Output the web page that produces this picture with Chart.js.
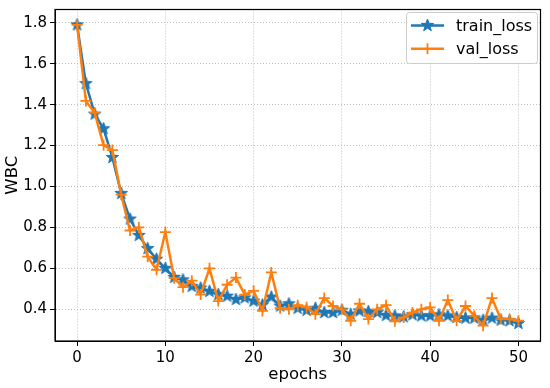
<!DOCTYPE html>
<html>
<head>
<meta charset="utf-8">
<script src="https://cdn.jsdelivr.net/npm/chart.js@4"></script>
<style>
  html, body { margin: 0; padding: 0; background: #fff; }
  canvas { display: block; }
</style>
</head>
<body>
<canvas id="lossChart" width="550" height="388"></canvas>
<script>
// data
const epochs = Array.from({ length: 51 }, (_, i) => i);
const trainLoss = [
  1.79, 1.503, 1.354, 1.282, 1.142, 0.966, 0.841, 0.761, 0.697, 0.645,
  0.600, 0.556, 0.544, 0.512, 0.504, 0.488, 0.472, 0.464, 0.448, 0.456,
  0.440, 0.421, 0.460, 0.416, 0.427, 0.405, 0.395, 0.405, 0.384, 0.384,
  0.395, 0.376, 0.392, 0.389, 0.384, 0.370, 0.368, 0.363, 0.373, 0.368,
  0.368, 0.373, 0.368, 0.360, 0.357, 0.357, 0.347, 0.357, 0.347, 0.344,
  0.331
];
const valLoss = [
  1.79, 1.418, 1.360, 1.202, 1.178, 0.960, 0.785, 0.800, 0.657, 0.593,
  0.777, 0.552, 0.508, 0.540, 0.472, 0.600, 0.440, 0.520, 0.555, 0.472,
  0.490, 0.392, 0.580, 0.405, 0.400, 0.420, 0.410, 0.376, 0.455, 0.416,
  0.400, 0.344, 0.427, 0.352, 0.400, 0.420, 0.341, 0.360, 0.384, 0.400,
  0.409, 0.344, 0.445, 0.344, 0.416, 0.368, 0.320, 0.455, 0.352, 0.352,
  0.344
];
const xTicks = [0, 10, 20, 30, 40, 50];
const yTicks = [0.4, 0.6, 0.8, 1.0, 1.2, 1.4, 1.6, 1.8];

const BLUE = '#1f77b4';
const ORANGE = '#ff7f0e';
const FONT = "'DejaVu Sans', sans-serif";

// filled 5-point star like matplotlib's '*'
function makeStar(color, rOut, rIn) {
  const c = document.createElement('canvas');
  const s = Math.ceil(rOut * 2 + 2);
  c.width = s; c.height = s;
  const g = c.getContext('2d');
  g.translate(s / 2, s / 2);
  g.beginPath();
  for (let i = 0; i < 10; i++) {
    const r = i % 2 === 0 ? rOut : rIn;
    const a = -Math.PI / 2 + i * Math.PI / 5;
    g.lineTo(r * Math.cos(a), r * Math.sin(a));
  }
  g.closePath();
  g.fillStyle = color;
  g.fill();
  g.lineWidth = 1;
  g.strokeStyle = color;
  g.stroke();
  return c;
}
const starImg = makeStar(BLUE, 6.5, 2.7);

const toPoints = ys => ys.map((y, i) => ({ x: epochs[i], y }));

// black box around the plot area
const frame = {
  id: 'frame',
  afterDatasetsDraw(chart) {
    const { ctx, chartArea: a } = chart;
    ctx.save();
    ctx.strokeStyle = '#000';
    ctx.lineWidth = 1.2;
    ctx.strokeRect(a.left, a.top, a.right - a.left, a.bottom - a.top);
    ctx.restore();
  }
};

// legend inside the axes, upper right
const innerLegend = {
  id: 'innerLegend',
  afterDraw(chart) {
    const { ctx } = chart;
    const x0 = 406, y0 = 12, w = 131, h = 51;
    ctx.save();
    ctx.beginPath();
    ctx.roundRect(x0 + 0.5, y0 + 0.5, w, h, 3);
    ctx.fillStyle = 'rgba(255,255,255,0.85)';
    ctx.fill();
    ctx.strokeStyle = '#cccccc';
    ctx.lineWidth = 1;
    ctx.stroke();
    const rows = [chart.data.datasets[1], chart.data.datasets[0]];
    rows.forEach((ds, i) => {
      const y = y0 + 13.5 + i * 23.3;
      ctx.strokeStyle = ds.borderColor;
      ctx.lineWidth = ds.borderWidth;
      ctx.beginPath();
      ctx.moveTo(411, y);
      ctx.lineTo(444, y);
      ctx.stroke();
      if (ds.pointStyle === 'cross') {
        ctx.lineWidth = ds.pointBorderWidth;
        ctx.beginPath();
        ctx.moveTo(427.5, y - ds.pointRadius); ctx.lineTo(427.5, y + ds.pointRadius);
        ctx.moveTo(427.5 - ds.pointRadius, y); ctx.lineTo(427.5 + ds.pointRadius, y);
        ctx.stroke();
      } else {
        ctx.drawImage(ds.pointStyle, 427.5 - ds.pointStyle.width / 2, y - ds.pointStyle.height / 2);
      }
      ctx.fillStyle = '#000';
      ctx.font = '16px ' + FONT;
      ctx.textBaseline = 'middle';
      ctx.textAlign = 'left';
      ctx.fillText(ds.label, 456, y + 1);
    });
    ctx.restore();
  }
};

new Chart(document.getElementById('lossChart'), {
  type: 'line',
  data: {
    datasets: [
      {
        label: 'val_loss',
        data: toPoints(valLoss),
        borderColor: ORANGE,
        backgroundColor: ORANGE,
        borderWidth: 2.5,
        pointStyle: 'cross',
        pointRadius: 5.5,
        pointBorderWidth: 1.8,
        tension: 0,
        order: 0
      },
      {
        label: 'train_loss',
        data: toPoints(trainLoss),
        borderColor: BLUE,
        backgroundColor: BLUE,
        borderWidth: 2.5,
        pointStyle: starImg,
        pointRadius: 7,
        tension: 0,
        order: 1
      }
    ]
  },
  options: {
    responsive: false,
    animation: false,
    layout: { padding: { top: 3, right: 5, left: 0, bottom: 0 } },
    plugins: {
      legend: { display: false },
      tooltip: { enabled: false }
    },
    scales: {
      x: {
        type: 'linear',
        min: -2.5,
        max: 52.5,
        afterBuildTicks: axis => { axis.ticks = xTicks.map(v => ({ value: v })); },
        afterFit: axis => { axis.height = 47; axis.paddingLeft = 0; axis.paddingRight = 0; },
        ticks: { color: '#000', font: { family: FONT, size: 15 }, padding: 3 },
        grid: { color: '#b0b0b0', lineWidth: 0.8, tickColor: '#000', tickLength: 5, tickWidth: 1, tickBorderDash: [] },
        border: { display: true, color: '#000', width: 1, dash: [1, 2] },
        title: { display: true, text: 'epochs', color: '#000', font: { family: FONT, size: 16.5 }, padding: { top: 0, bottom: 3 } }
      },
      y: {
        min: 0.245,
        max: 1.865,
        afterBuildTicks: axis => { axis.ticks = yTicks.map(v => ({ value: v })); },
        afterFit: axis => { axis.width = 55; axis.paddingTop = 0; axis.paddingBottom = 0; },
        ticks: { color: '#000', font: { family: FONT, size: 15 }, padding: 3, callback: v => v.toFixed(1) },
        grid: { color: '#b0b0b0', lineWidth: 0.8, tickColor: '#000', tickLength: 5, tickWidth: 1, tickBorderDash: [] },
        border: { display: true, color: '#000', width: 1, dash: [1, 2] },
        title: { display: true, text: 'WBC', color: '#000', font: { family: FONT, size: 16.5 }, padding: { top: 3, bottom: 0 } }
      }
    }
  },
  plugins: [frame, innerLegend]
});
</script>
</body>
</html>
